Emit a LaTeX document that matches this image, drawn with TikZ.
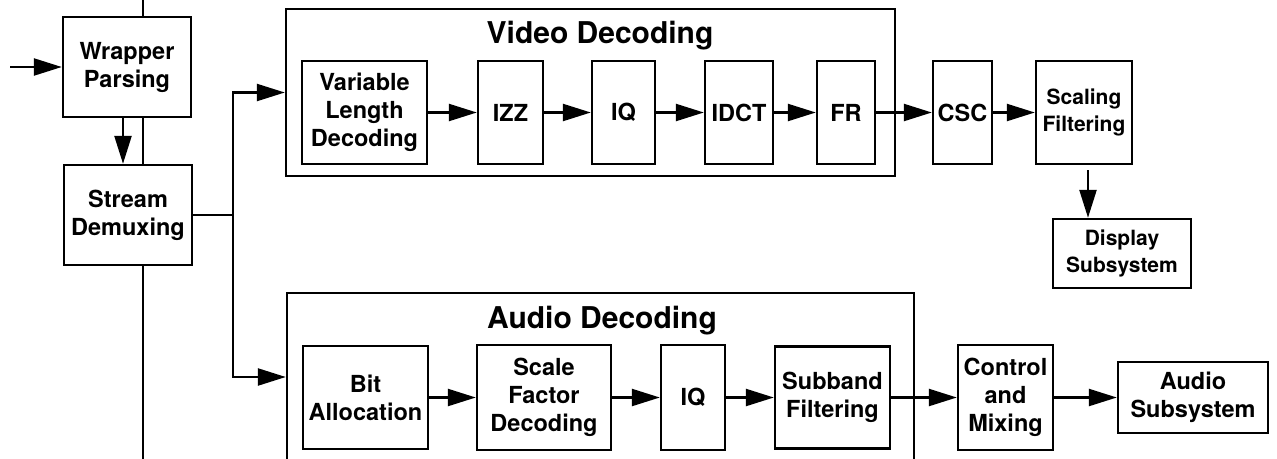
\documentclass[tikz,border=0pt]{standalone}
\usepackage{fontspec}
\setmainfont{TeX Gyre Heros}
\usetikzlibrary{arrows.meta}

\tikzset{
    blk/.style={draw, line width=2.4pt, fill=white, align=center, inner sep=0pt,
        font=\fontsize{23.5}{28}\selectfont\bfseries},
    blksmall/.style={blk, font=\fontsize{21}{27}\selectfont\bfseries},
    grp/.style={draw, line width=2.4pt, inner sep=0pt},
    ttl/.style={font=\fontsize{30}{34}\selectfont\bfseries, anchor=base, inner sep=0pt},
    wire/.style={line width=2.4pt},
}

\begin{document}
\begin{tikzpicture}[x=1pt, y=-1pt, >={Triangle[length=28pt,width=17pt]}]
    \useasboundingbox (0,0) rectangle (1277,458);
    \clip (0,0) rectangle (1277,458);

    \coordinate (bustop) at (143,-10);
    \coordinate (busbot) at (143,470);
    \draw[wire] (bustop) -- (busbot);

    \node[blk, minimum width=128pt, minimum height=100pt] (wrap) at (127,67) {Wrapper\\Parsing};
    \node[blk, minimum width=128pt, minimum height=100pt] (demux) at (128,215) {Stream\\Demuxing};

    \coordinate (src) at (10,67);
    \draw[wire, ->] (src) -- (wrap.west);
    \draw[wire, ->] ([xshift=-4pt]wrap.south) -- ([xshift=-4pt]wrap.south |- demux.north);

    % video path
    \node[grp, minimum width=609pt, minimum height=167pt] (video) at (590.5,92.5) {};
    \node[ttl] (vtitle) at (600,43) {Video Decoding};

    \node[blk, minimum width=125pt, minimum height=103pt] (vld) at (364.5,112.5) {Variable\\Length\\Decoding};
    \node[blk, minimum width=65pt, minimum height=103pt] (izz) at (510.5,112.5) {IZZ};
    \node[blk, minimum width=63pt, minimum height=103pt] (iqv) at (623.5,112.5) {IQ};
    \node[blk, minimum width=68pt, minimum height=103pt] (idct) at (739,112.5) {IDCT};
    \node[blk, minimum width=58pt, minimum height=103pt] (fr) at (846,112.5) {FR};
    \node[blk, minimum width=59pt, minimum height=103pt] (csc) at (962.5,112.5) {CSC};
    \node[blksmall, minimum width=96pt, minimum height=103pt] (scal) at (1084,112.5) {Scaling\\Filtering};
    \node[blksmall, minimum width=138pt, minimum height=69pt] (disp) at (1122,253.5) {Display\\Subsystem};

    \draw[wire, ->] (vld) -- (izz);
    \draw[wire, ->] (izz) -- (iqv);
    \draw[wire, ->] (iqv) -- (idct);
    \draw[wire, ->] (idct) -- (fr);
    \draw[wire, ->] (fr) -- (csc);
    \draw[wire, ->] (csc) -- (scal);
    \draw[wire, ->, shorten <=5pt] ([xshift=4pt]scal.south) -- ([xshift=4pt]scal.south |- disp.north);

    % audio path
    \node[grp, minimum width=627pt, minimum height=168pt] (audio) at (600.5,377) {};
    \node[ttl] (atitle) at (602,328) {Audio Decoding};

    \node[blk, minimum width=125pt, minimum height=103pt] (bit) at (365.5,397.5) {Bit\\Allocation};
    \node[blk, minimum width=134pt, minimum height=105pt] (sfd) at (544,397.5) {Scale\\Factor\\Decoding};
    \node[blk, minimum width=64pt, minimum height=105pt] (iqa) at (693,397.5) {IQ};
    \node[blk, minimum width=115pt, minimum height=102pt] (sub) at (832.5,397.5) {Subband\\Filtering};
    \node[blk, minimum width=95pt, minimum height=105pt] (mix) at (1005.5,397.5) {Control\\and\\Mixing};
    \node[blk, minimum width=150pt, minimum height=71pt] (asub) at (1193,397.5) {Audio\\Subsystem};

    \draw[wire, ->] (bit) -- (sfd);
    \draw[wire, ->] (sfd) -- (iqa);
    \draw[wire, ->] (iqa) -- (sub);
    \draw[wire, ->] (sub) -- (mix);
    \draw[wire, ->] (mix) -- (asub);

    \coordinate (split) at (233,215);
    \draw[wire] (demux.east) -- (split);
    \draw[wire, ->] (split) |- (video.west);
    \draw[wire, ->] (split) |- (audio.west);
\end{tikzpicture}
\end{document}
